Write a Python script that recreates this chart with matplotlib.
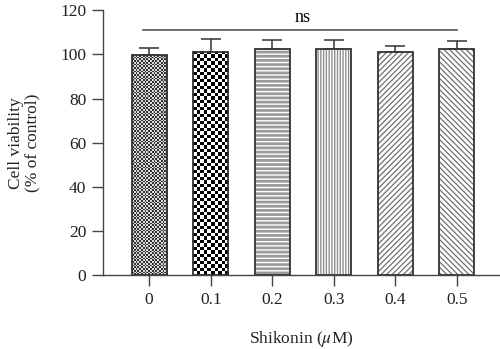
import matplotlib
matplotlib.use("Agg")
import matplotlib.pyplot as plt
import numpy as np

plt.rcParams['font.family'] = ['Liberation Serif', 'DejaVu Serif']
plt.rcParams['mathtext.fontset'] = 'stix'

# data
doses = ['0', '0.1', '0.2', '0.3', '0.4', '0.5']
viability = [99.6, 101.1, 102.6, 102.6, 101.1, 102.6]
sd = [3.4, 5.8, 3.8, 4.0, 2.9, 3.5]
sig_label = 'ns'
sig_height = 111

# bar fills: checker (cells across, dark, light) or hatch (pattern, colour, lw)
fills = [('checker', 20, 0.2, 0.85), ('checker', 10, 0.0, 1.0),
         ('hatch', '----', '#9a9a9a', 2.0), ('hatch', '||||||', '#909090', 1.0),
         ('hatch', '//////', '#707070', 0.9), ('hatch', '\\\\\\\\\\\\', '#707070', 0.9)]

fig = plt.figure(figsize=(5, 3.49), dpi=100)
ax = fig.add_axes([0.206, 0.212, 0.794, 0.7585])

x = np.arange(len(doses))
width = 0.57
edge = '#333333'

ax.errorbar(x, viability, yerr=[np.zeros(len(sd)), sd], fmt='none',
            ecolor=edge, elinewidth=1.1, capsize=7.5, capthick=1.1, zorder=2)

for xi, v, f in zip(x, viability, fills):
    if f[0] == 'checker':
        base = ax.bar(xi, v, width, color='white', linewidth=0, zorder=3)[0]
        nx = f[1]
        ny = int(round(nx * (v * 2.21) / 35))
        yy, xx = np.indices((ny, nx))
        board = np.where((xx + yy) % 2 == 0, f[2], f[3])
        ax.imshow(board, cmap='gray', vmin=0, vmax=1, interpolation='nearest',
                  extent=(xi - width / 2, xi + width / 2, 0, v), aspect='auto',
                  clip_path=base, zorder=3.5)
    else:
        b = ax.bar(xi, v, width, color='white', edgecolor=f[2], hatch=f[1],
                   linewidth=0, zorder=3)[0]
        if hasattr(b, 'set_hatch_linewidth'):
            b.set_hatch_linewidth(f[3])
    ax.bar(xi, v, width, color='none', edgecolor=edge, linewidth=1.3, zorder=4)

# significance line
ax.plot([x[0] - 0.1, x[-1]], [sig_height, sig_height], color='#555555', lw=1.2,
        clip_on=False)
ax.text((x[0] + x[-1]) / 2, sig_height + 2.0, sig_label, ha='center',
        va='bottom', fontsize=13)

ax.set_xlim(-0.75, 5.7)
ax.set_ylim(0, 120)
ax.set_yticks(range(0, 121, 20))
ax.set_xticks(x)
ax.set_xticklabels(doses)
ax.autoscale(False)

for s in ['top', 'right']:
    ax.spines[s].set_visible(False)
for s in ['left', 'bottom']:
    ax.spines[s].set_color('#444444')
    ax.spines[s].set_linewidth(1.0)
ax.tick_params(direction='out', length=8, width=1.0, color='#444444',
               labelsize=12.5, labelcolor='#222222', pad=4)

ax.set_ylabel('Cell viability\n(% of control)', fontsize=12.5, color='#222222',
              labelpad=14, linespacing=1.05)
ax.set_xlabel(r'Shikonin ($\mu$M)', fontsize=12.5, color='#222222', labelpad=15)

fig.savefig('out.png', dpi=100)
